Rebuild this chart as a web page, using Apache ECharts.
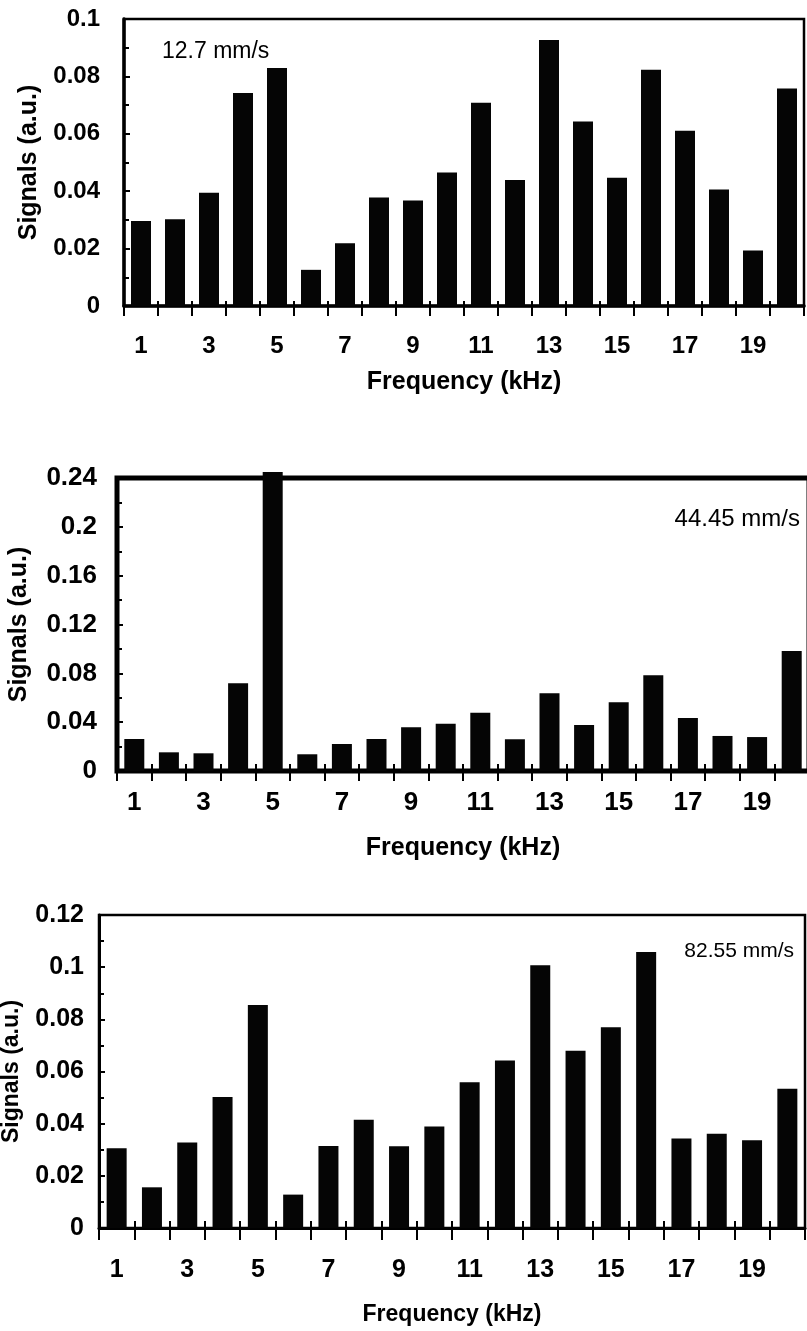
<!DOCTYPE html>
<html>
<head>
<meta charset="utf-8">
<title>Signals vs Frequency</title>
<script src="https://cdn.jsdelivr.net/npm/echarts@6/dist/echarts.min.js"></script>
<style>
  html, body { margin: 0; padding: 0; background: #fff; }
  #chart { width: 807px; height: 1331px; }
</style>
</head>
<body>
<div id="chart"></div>
<script>
// 1. data (one array per scan speed)
const frequencies = ['1', '2', '3', '4', '5', '6', '7', '8', '9', '10',
                     '11', '12', '13', '14', '15', '16', '17', '18', '19', '20'];

const signals_12_7 = [0.0296, 0.0302, 0.0395, 0.0742, 0.0829, 0.0126, 0.0219, 0.0378, 0.0368, 0.0465,
                      0.0708, 0.0439, 0.0927, 0.0643, 0.0447, 0.0823, 0.0611, 0.0406, 0.0193, 0.0758];
const signals_44_45 = [0.0262, 0.0153, 0.0145, 0.0718, 0.245, 0.0137, 0.0221, 0.0262, 0.0358, 0.0388,
                       0.0478, 0.0260, 0.0636, 0.0377, 0.0563, 0.0784, 0.0434, 0.0287, 0.0278, 0.0983];
const signals_82_55 = [0.0306, 0.0156, 0.0328, 0.0502, 0.0855, 0.0128, 0.0314, 0.0415, 0.0313, 0.0389,
                       0.0559, 0.0642, 0.1007, 0.0680, 0.0770, 0.1058, 0.0343, 0.0361, 0.0336, 0.0534];

// y ranges of the three panels
const yMax = [0.1, 0.24, 0.12];
const yStep = [0.02, 0.04, 0.02];
const speedLabels = ['12.7 mm/s', '44.45 mm/s', '82.55 mm/s'];

const FONT = '"Liberation Sans", Arial, Helvetica, sans-serif';
const chart = echarts.init(document.getElementById('chart'));

// 2. layout of each panel (pixels)
const panels = [
    { values: signals_12_7, left: 124, top: 19, width: 680, height: 287,
      axisW: 3.5, frameW: 2.5, tickFont: 24, nameFont: 25,
      xLabelMargin: 28, xNameGap: 64, yLabelMargin: 24, yNameGap: 82,
      tickDown: 10, tickUp: 5, title: { left: 162, top: 40, fontSize: 23 } },
    { values: signals_44_45, left: 117, top: 478, width: 692, height: 293,
      axisW: 4, frameW: 5, tickFont: 26, nameFont: 25,
      xLabelMargin: 19, xNameGap: 65, yLabelMargin: 20, yNameGap: 85,
      tickDown: 10, tickUp: 7, title: { right: 7, top: 507, fontSize: 24 } },
    { values: signals_82_55, left: 99, top: 915, width: 706, height: 313,
      axisW: 3, frameW: 2.5, tickFont: 25, nameFont: 23,
      xLabelMargin: 30, xNameGap: 75, yLabelMargin: 15, yNameGap: 76,
      tickDown: 12, tickUp: 7, title: { right: 13, top: 941, fontSize: 21 } }
];

const grids = [], xAxes = [], yAxes = [], series = [], titles = [];

// 3. build grid + axes + bars for one panel
function addPanel(p, i) {
    grids.push({
        left: p.left, top: p.top, width: p.width, height: p.height,
        show: true, borderColor: '#000', borderWidth: p.frameW,
        outerBoundsMode: 'none'
    });

    const boldText = { color: '#000', fontFamily: FONT, fontWeight: 'bold' };

    // main x axis: labels, title, downward half of the ticks
    xAxes.push({
        gridIndex: i, type: 'category', data: frequencies, position: 'bottom',
        axisLine: { show: true, lineStyle: { color: '#000', width: p.axisW } },
        axisTick: { show: true, interval: 0, length: p.tickDown, lineStyle: { color: '#000', width: 2 } },
        axisLabel: Object.assign({ interval: 1, margin: p.xLabelMargin, fontSize: p.tickFont }, boldText),
        name: 'Frequency (kHz)', nameLocation: 'middle', nameGap: p.xNameGap,
        nameTextStyle: Object.assign({ fontSize: p.nameFont }, boldText)
    });
    // helper axis moved down onto the bottom line: upward half of the ticks
    xAxes.push({
        gridIndex: i, type: 'category', data: frequencies, position: 'top', offset: -p.height,
        axisLine: { show: false },
        axisTick: { show: true, inside: false, interval: 0, length: p.tickUp, lineStyle: { color: '#000', width: 2 } },
        axisLabel: { show: false }
    });

    yAxes.push({
        gridIndex: i, type: 'value', min: 0, max: yMax[i], interval: yStep[i],
        axisLine: { show: true, lineStyle: { color: '#000', width: p.axisW } },
        axisTick: { show: true, inside: true, length: 6, lineStyle: { color: '#000', width: 2 } },
        minorTick: { show: true, splitNumber: 2, length: 5, lineStyle: { color: '#000', width: 2 } },
        splitLine: { show: false },
        axisLabel: Object.assign({ margin: p.yLabelMargin, fontSize: p.tickFont }, boldText),
        name: 'Signals (a.u.)', nameLocation: 'middle', nameGap: p.yNameGap, nameRotate: 90,
        nameTextStyle: Object.assign({ fontSize: p.nameFont }, boldText)
    });

    series.push({
        type: 'bar', xAxisIndex: i * 2, yAxisIndex: i,
        data: p.values, barWidth: 20, clip: false,
        itemStyle: { color: '#050505' }
    });

    titles.push(Object.assign({
        text: speedLabels[i], padding: 0,
        textStyle: { color: '#000', fontFamily: FONT, fontWeight: 'normal', fontSize: p.title.fontSize }
    }, p.title.left !== undefined ? { left: p.title.left } : { right: p.title.right }, { top: p.title.top }));
}

panels.forEach(addPanel);

chart.setOption({
    animation: false,
    backgroundColor: '#fff',
    title: titles,
    grid: grids,
    xAxis: xAxes,
    yAxis: yAxes,
    series: series
});

window.addEventListener('resize', () => chart.resize());
</script>
</body>
</html>
